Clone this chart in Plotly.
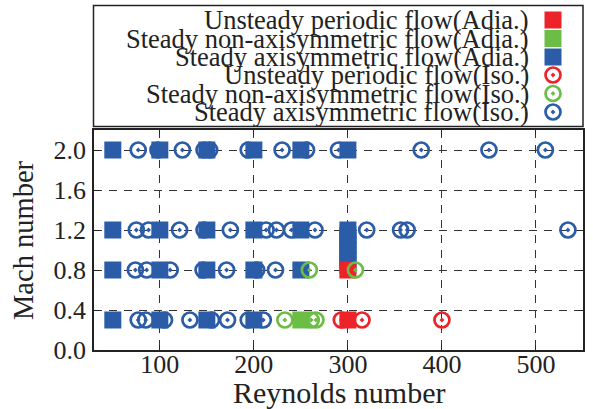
import plotly.graph_objects as go

W, H = 593, 409

# ---- data (Reynolds number, Mach number) ----
adia_axi_re = [50, 100, 150, 200, 250, 300,
               50, 100, 150, 200, 250, 300,
               300, 300, 300, 300, 300, 300, 300,
               50, 100, 150, 200, 250,
               50, 100, 150, 200]
adia_axi_ma = [2.0, 2.0, 2.0, 2.0, 2.0, 2.0,
               1.2, 1.2, 1.2, 1.2, 1.2, 1.2,
               1.15, 1.1, 1.05, 1.0, 0.95, 0.9, 0.85,
               0.8, 0.8, 0.8, 0.8, 0.8,
               0.3, 0.3, 0.3, 0.3]

adia_non_re = [250]
adia_non_ma = [0.3]

adia_uns_re = [300, 300]
adia_uns_ma = [0.8, 0.3]

iso_axi_re = [77, 98, 124, 147, 153, 194, 230, 256, 290, 378, 450, 510,
              75, 88, 121, 147, 175, 213, 224, 240, 265, 320, 356, 363, 534,
              74, 86, 111, 146, 171, 203, 223,
              77, 85, 105, 132, 155, 172, 194, 210]
iso_axi_ma = [2.0] * 12 + [1.2] * 13 + [0.8] * 7 + [0.3] * 8

iso_non_re = [259, 308, 233, 261, 266]
iso_non_ma = [0.8, 0.8, 0.3, 0.3, 0.3]

iso_uns_re = [293, 315, 400]
iso_uns_ma = [0.3, 0.3, 0.3]

legend_labels = ["Unsteady periodic flow(Adia.)",
                 "Steady non-axisymmetric flow(Adia.)",
                 "Steady axisymmetric flow(Adia.)",
                 "Unsteady periodic flow(Iso.)",
                 "Steady non-axisymmetric flow(Iso.)",
                 "Steady axisymmetric flow(Iso.)"]

x_ticks = [100, 200, 300, 400, 500]
y_ticks = [0.0, 0.4, 0.8, 1.2, 1.6, 2.0]

BLUE = "#2A5CA8"
GREEN = "#6CBD45"
RED = "#EC2328"
FONT = "Liberation Serif, Times New Roman, serif"

# ---- layout geometry (pixels) ----
PL, PR, PT, PB = 94, 583, 130, 350


def px_x(p):
    return p / W


def px_y(p):
    return (H - p) / H


sq = dict(symbol="square", size=17, line=dict(width=0))
circ = dict(symbol="circle-open-dot", size=15, line=dict(width=2.7))

fig = go.Figure()
fig.add_trace(go.Scatter(x=iso_axi_re, y=iso_axi_ma, mode="markers",
                         marker=dict(color=BLUE, **circ)))
fig.add_trace(go.Scatter(x=iso_uns_re, y=iso_uns_ma, mode="markers",
                         marker=dict(color=RED, **circ)))
fig.add_trace(go.Scatter(x=adia_axi_re, y=adia_axi_ma, mode="markers",
                         marker=dict(color=BLUE, **sq)))
fig.add_trace(go.Scatter(x=adia_non_re, y=adia_non_ma, mode="markers",
                         marker=dict(color=GREEN, **sq)))
fig.add_trace(go.Scatter(x=adia_uns_re, y=adia_uns_ma, mode="markers",
                         marker=dict(color=RED, **sq)))
fig.add_trace(go.Scatter(x=iso_non_re, y=iso_non_ma, mode="markers",
                         marker=dict(color=GREEN, **circ)))

# ---- custom legend (symbols on the right of the text) ----
leg_rows = [20, 38.5, 57, 75, 93.5, 112]
leg_styles = [(RED, sq), (GREEN, sq), (BLUE, sq),
              (RED, circ), (GREEN, circ), (BLUE, circ)]
for row, (col, st), lab in zip(leg_rows, leg_styles, legend_labels):
    fig.add_trace(go.Scatter(x=[0.5], y=[row], mode="markers",
                             marker=dict(color=col, **st),
                             xaxis="x2", yaxis="y2", hoverinfo="skip"))
    fig.add_annotation(text=lab, x=px_x(531), y=row, xref="paper", yref="y2",
                       xanchor="right", yanchor="middle", showarrow=False,
                       font=dict(family=FONT, size=26.5, color="#222"))

fig.add_shape(type="rect", xref="paper", yref="paper",
              x0=px_x(93.5), x1=px_x(583), y0=px_y(126.5), y1=px_y(5.5),
              line=dict(color="#222", width=1.5))

fig.add_annotation(text="Reynolds number", x=px_x((PL + PR) / 2), y=px_y(392),
                   xref="paper", yref="paper", showarrow=False,
                   xanchor="center", yanchor="middle",
                   font=dict(family=FONT, size=30, color="#222"))
fig.add_annotation(text="Mach number", x=px_x(23), y=px_y((PT + PB) / 2),
                   xref="paper", yref="paper", showarrow=False, textangle=-90,
                   xanchor="center", yanchor="middle",
                   font=dict(family=FONT, size=28.5, color="#222"))

axis_common = dict(showline=True, linecolor="#222", linewidth=1.5, mirror="ticks",
                   ticks="inside", ticklen=5, tickwidth=1, tickcolor="#222",
                   showgrid=True, gridcolor="#333", gridwidth=1, griddash="8px,7px",
                   zeroline=False, automargin=False,
                   tickfont=dict(family=FONT, size=26, color="#222"))

fig.update_layout(
    width=W, height=H, margin=dict(l=0, r=0, t=0, b=0, autoexpand=False),
    paper_bgcolor="white", plot_bgcolor="white", showlegend=False,
    xaxis=dict(domain=[px_x(PL), px_x(PR)], range=[30, 550],
               tickvals=x_ticks, ticktext=[str(v) for v in x_ticks],
               ticklabelstandoff=-10, **axis_common),
    yaxis=dict(domain=[px_y(PB), px_y(PT)], range=[0, 2.2],
               tickvals=y_ticks, ticktext=[f"{v:.1f}" for v in y_ticks],
               ticklabelstandoff=1, **axis_common),
    xaxis2=dict(domain=[px_x(540), px_x(566)], range=[0, 1], visible=False,
                anchor="y2", fixedrange=True),
    yaxis2=dict(domain=[px_y(128), px_y(4)], range=[128, 4], visible=False,
                anchor="x2", fixedrange=True),
)

fig.write_html("out.html")
